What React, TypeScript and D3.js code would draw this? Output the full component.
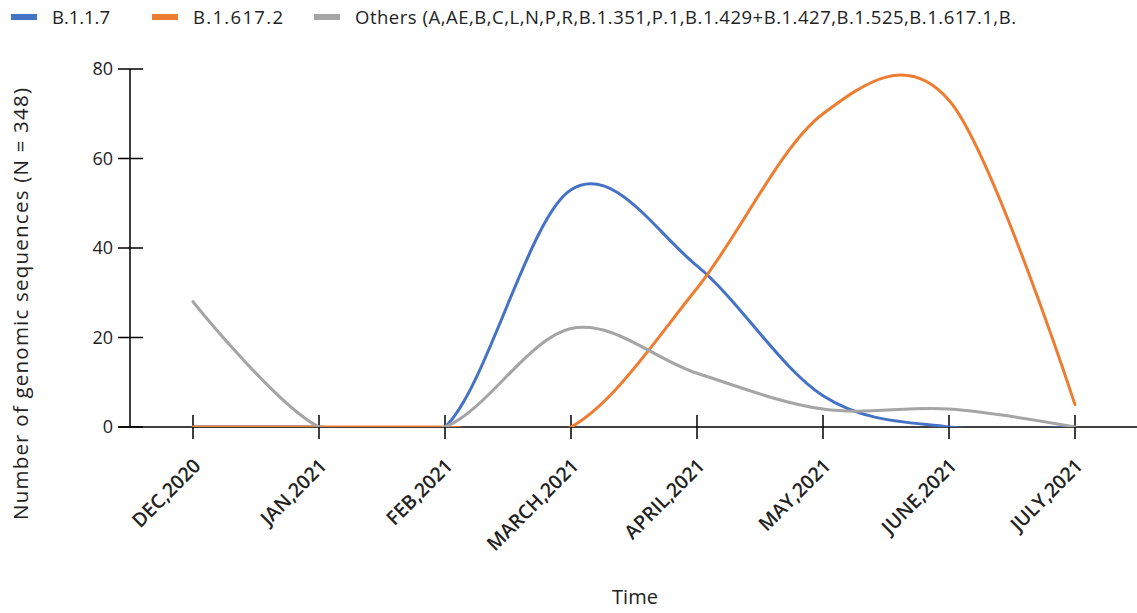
import React from "react";
import * as d3 from "d3";

const months = ["DEC,2020", "JAN,2021", "FEB,2021", "MARCH,2021", "APRIL,2021", "MAY,2021", "JUNE,2021", "JULY,2021"];
const b117 = [0, 0, 0, 53, 36, 7, 0, 0];
const b16172 = [0, 0, 0, 0, 31, 70, 73, 5];
const others = [28, 0, 0, 22, 12, 4, 4, 0];
const yTicks = [0, 20, 40, 60, 80];
const seriesNames = ["B.1.1.7", "B.1.617.2", "Others (A,AE,B,C,L,N,P,R,B.1.351,P.1,B.1.429+B.1.427,B.1.525,B.1.617.1,B."];
const seriesColors = ["#4472C4", "#ED7D31", "#A5A5A5"];

const W = 1137, H = 613;
const left = 130, right = 1138, top = 69, bottom = 427;
const FONT = "'Open Sans', sans-serif";

export default function App() {
  const x = d3.scalePoint<string>().domain(months).range([left, right]).padding(0.5);
  const y = d3.scaleLinear().domain([0, 80]).range([bottom, top]);
  const series = [b117, b16172, others];
  const line = d3
    .line<number>()
    .x((_, i) => x(months[i]) as number)
    .y((d) => y(d))
    .curve(d3.curveCardinal.tension(0));
  const legendX = [11, 152, 314];
  const legendLen = [58, 90, 661];

  return (
    <svg width={W} height={H} style={{ position: "absolute", left: 0, top: 0, background: "#fff" }}>
      <defs>
        <clipPath id="plot">
          <rect x={left} y={20} width={right - left} height={bottom - 20} />
        </clipPath>
      </defs>
      {/* legend */}
      {seriesNames.map((n, i) => (
        <g key={n}>
          <rect x={legendX[i]} y={14} width={26} height={6} fill={seriesColors[i]} />
          <text
            x={legendX[i] + 41}
            y={24}
            fontFamily={FONT}
            fontSize={18.5}
            fill="#222"
            textLength={legendLen[i]}
            lengthAdjust="spacing"
          >
            {n}
          </text>
        </g>
      ))}
      {/* axes */}
      <line x1={left} x2={left} y1={top} y2={bottom} stroke="#000" strokeWidth={1.5} />
      <line x1={left - 12} x2={right} y1={bottom} y2={bottom} stroke="#000" strokeWidth={1.5} />
      {yTicks.map((t) => (
        <g key={t}>
          <line x1={left - 12} x2={left + 13} y1={y(t)} y2={y(t)} stroke="#000" strokeWidth={1.5} />
          <text x={113} y={y(t)} dy="0.35em" textAnchor="end" fontFamily={FONT} fontSize={18} fill="#222">
            {t}
          </text>
        </g>
      ))}
      {months.map((m) => (
        <g key={m}>
          <line x1={x(m)} x2={x(m)} y1={bottom - 12} y2={bottom + 12} stroke="#000" strokeWidth={1.5} />
          <text
            transform={`translate(${(x(m) as number) + 9},${bottom + 40}) rotate(-45)`}
            textAnchor="end"
            fontFamily={FONT}
            fontSize={19.5}
            fontWeight={600}
            fill="#222"
          >
            {m}
          </text>
        </g>
      ))}
      {/* series */}
      <g clipPath="url(#plot)">
        {series.map((s, i) => (
          <path key={i} d={line(s) || ""} fill="none" stroke={seriesColors[i]} strokeWidth={3} strokeLinecap="round" />
        ))}
      </g>
      {/* titles */}
      <text x={635} y={604} textAnchor="middle" fontFamily={FONT} fontSize={20} fill="#222">
        Time
      </text>
      <text
        transform={`translate(28,304) rotate(-90)`}
        textAnchor="middle"
        fontFamily={FONT}
        fontSize={20.5}
        fill="#222"
        textLength={432}
        lengthAdjust="spacing"
      >
        Number of genomic sequences (N = 348)
      </text>
    </svg>
  );
}
